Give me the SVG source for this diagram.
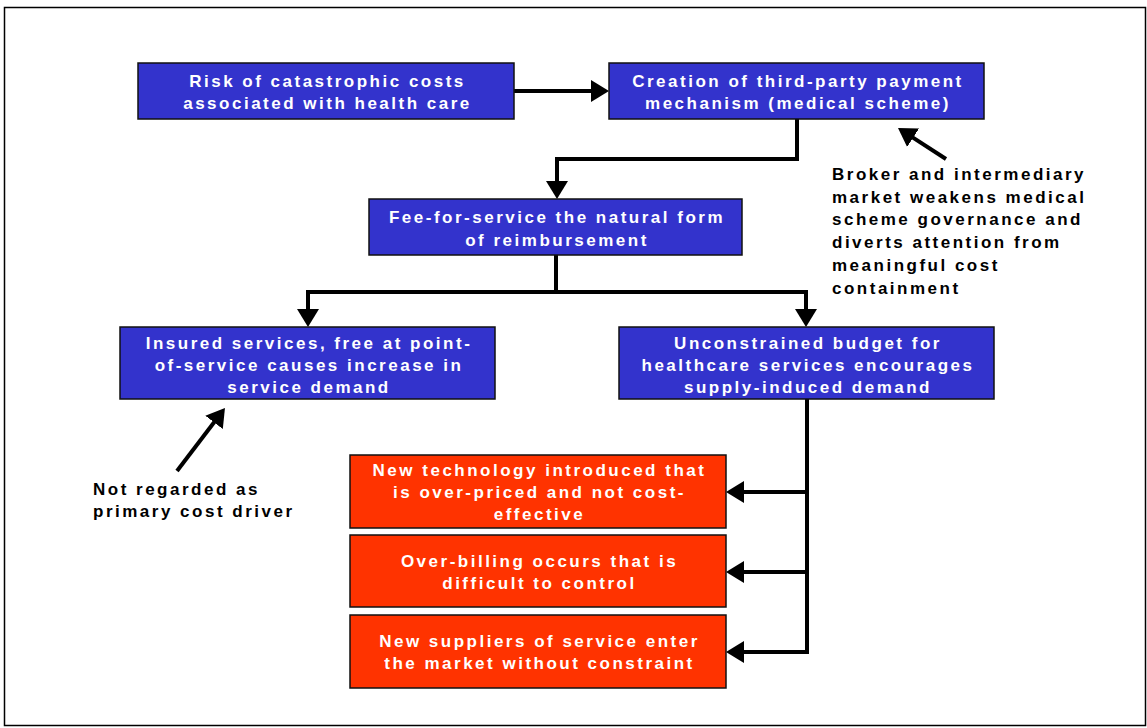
<svg xmlns="http://www.w3.org/2000/svg" width="1147" height="728" viewBox="0 0 1147 728">
<style>
.bg{fill:#fff}
.frame{fill:none;stroke:#000;stroke-width:1.5}
.blue{fill:#3333cc;stroke:#111;stroke-width:1.5}
.red{fill:#ff3300;stroke:#111;stroke-width:1.5}
.bt{font-family:"Liberation Sans",Arial,sans-serif;font-weight:bold;font-size:17px;letter-spacing:2.5px;fill:#fff;text-anchor:middle}
.nt{font-family:"Liberation Sans",Arial,sans-serif;font-weight:bold;font-size:17px;letter-spacing:2.5px;fill:#000}
.conn{fill:none;stroke:#000;stroke-width:4}
</style>
<defs>
<marker id="ah" markerUnits="userSpaceOnUse" markerWidth="20" markerHeight="22" refX="8" refY="11" orient="auto" viewBox="0 0 20 22">
<path d="M0,0 L18,11 L0,22 z" fill="#000"/>
</marker>
</defs>
<rect class="bg" x="0" y="0" width="1147" height="728"/>
<rect class="frame" x="4.5" y="7.5" width="1141" height="718"/>
<g id="connectors">
<path class="conn" d="M514,91 H599" marker-end="url(#ah)"/>
<path class="conn" d="M797,119 V159 H557 V189" marker-end="url(#ah)"/>
<path class="conn" d="M556,255 V292 H308 V317" marker-end="url(#ah)"/>
<path class="conn" d="M556,292 H806 V317" marker-end="url(#ah)"/>
<path class="conn" d="M807,399 V652 H736" marker-end="url(#ah)"/>
<path class="conn" d="M807,492 H736" marker-end="url(#ah)"/>
<path class="conn" d="M807,572 H736" marker-end="url(#ah)"/>
<path class="conn" d="M946,159 L906.4,133.4" marker-end="url(#ah)"/>
<path class="conn" d="M177,471 L218.9,416" marker-end="url(#ah)"/>
</g>
<g id="n1">
<rect class="blue" x="138" y="63" width="376" height="56"/>
<text class="bt" x="327.5" y="87">Risk of catastrophic costs</text>
<text class="bt" x="327.5" y="109">associated with health care</text>
</g>
<g id="n2">
<rect class="blue" x="609" y="63" width="375" height="56"/>
<text class="bt" x="798" y="87">Creation of third-party payment</text>
<text class="bt" x="798" y="109">mechanism (medical scheme)</text>
</g>
<g id="n3">
<rect class="blue" x="369" y="199" width="373" height="56"/>
<text class="bt" x="557" y="223">Fee-for-service the natural form</text>
<text class="bt" x="557" y="246">of reimbursement</text>
</g>
<g id="n4">
<rect class="blue" x="120" y="327" width="375" height="72"/>
<text class="bt" x="309" y="349">Insured services, free at point-</text>
<text class="bt" x="309" y="371">of-service causes increase in</text>
<text class="bt" x="309" y="393">service demand</text>
</g>
<g id="n5">
<rect class="blue" x="619" y="327" width="375" height="72"/>
<text class="bt" x="808" y="349">Unconstrained budget for</text>
<text class="bt" x="808" y="371">healthcare services encourages</text>
<text class="bt" x="808" y="393">supply-induced demand</text>
</g>
<g id="n6">
<rect class="red" x="350" y="455" width="376" height="73"/>
<text class="bt" x="539.5" y="476">New technology introduced that</text>
<text class="bt" x="539.5" y="498">is over-priced and not cost-</text>
<text class="bt" x="539.5" y="520">effective</text>
</g>
<g id="n7">
<rect class="red" x="350" y="535" width="376" height="72"/>
<text class="bt" x="539.5" y="567">Over-billing occurs that is</text>
<text class="bt" x="539.5" y="589">difficult to control</text>
</g>
<g id="n8">
<rect class="red" x="350" y="615" width="376" height="73"/>
<text class="bt" x="539.5" y="647">New suppliers of service enter</text>
<text class="bt" x="539.5" y="669">the market without constraint</text>
</g>
<g id="note1">
<text class="nt" x="832" y="180">Broker and intermediary</text>
<text class="nt" x="832" y="203">market weakens medical</text>
<text class="nt" x="832" y="225">scheme governance and</text>
<text class="nt" x="832" y="248">diverts attention from</text>
<text class="nt" x="832" y="271">meaningful cost</text>
<text class="nt" x="832" y="294">containment</text>
</g>
<g id="note2">
<text class="nt" x="93" y="495">Not regarded as</text>
<text class="nt" x="93" y="517">primary cost driver</text>
</g>
</svg>
